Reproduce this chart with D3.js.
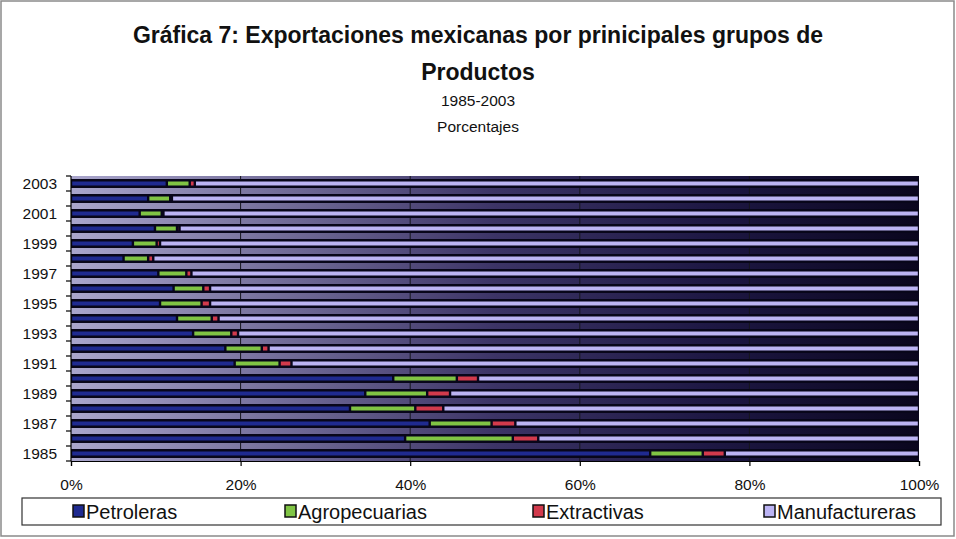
<!DOCTYPE html>
<html>
<head>
<meta charset="utf-8">
<script src="https://cdn.jsdelivr.net/npm/d3@7"></script>
<style>
  html, body { margin: 0; padding: 0; background: #ffffff; }
  svg { display: block; font-family: "Liberation Sans", Arial, sans-serif; }
</style>
</head>
<body>
<svg id="chart" width="956" height="539"></svg>
<script>
// Participación de cada grupo de productos en las exportaciones (%)
const years = [1985, 1986, 1987, 1988, 1989, 1990, 1991, 1992, 1993, 1994,
               1995, 1996, 1997, 1998, 1999, 2000, 2001, 2002, 2003];
const petroleras     = [68.3, 39.4, 42.3, 32.9, 34.7, 38.0, 19.3, 18.2, 14.4, 12.5,
                        10.5, 12.1, 10.3,  6.2,  7.3,  9.9,  8.1,  9.1, 11.3];
const agropecuarias  = [ 6.2, 12.7,  7.3,  7.7,  7.3,  7.5,  5.3,  4.3,  4.5,  4.1,
                         4.9,  3.5,  3.3,  2.9,  2.8,  2.6,  2.6,  2.6,  2.7];
const extractivas    = [ 2.6,  3.0,  2.8,  3.3,  2.7,  2.5,  1.4,  0.8,  0.8,  0.8,
                         1.0,  0.8,  0.6,  0.6,  0.4,  0.3,  0.2,  0.2,  0.6];
const manufactureras = [22.9, 44.9, 47.6, 56.1, 55.3, 52.0, 74.0, 76.7, 80.3, 82.6,
                        83.6, 83.6, 85.8, 90.3, 89.5, 87.2, 89.1, 88.1, 85.4];
const seriesNames = ["Petroleras", "Agropecuarias", "Extractivas", "Manufactureras"];
const xTicks = [0, 20, 40, 60, 80, 100];
const yLabelYears = [1985, 1987, 1989, 1991, 1993, 1995, 1997, 1999, 2001, 2003];

const colors = {
  Petroleras: "#1f2a90",
  Agropecuarias: "#80c444",
  Extractivas: "#d23a4c",
  Manufactureras: "#bcb4f4"
};

const rows = years.map((yr, i) => ({
  year: yr,
  Petroleras: petroleras[i],
  Agropecuarias: agropecuarias[i],
  Extractivas: extractivas[i],
  Manufactureras: manufactureras[i]
}));

const svg = d3.select("#chart");
const W = 956, H = 539;
const plot = { left: 71, right: 919, top: 176, bottom: 461 };

// marco exterior
svg.append("rect")
  .attr("x", 1).attr("y", 1).attr("width", W - 3).attr("height", H - 4)
  .attr("fill", "#ffffff").attr("stroke", "#8a8a8a").attr("stroke-width", 1.5);

// títulos
const titles = svg.append("g").attr("text-anchor", "middle").attr("fill", "#111");
titles.append("text").attr("x", 478).attr("y", 43)
  .attr("font-size", 23).attr("font-weight", "bold")
  .text("Gráfica 7: Exportaciones mexicanas por prinicipales grupos de");
titles.append("text").attr("x", 478).attr("y", 80)
  .attr("font-size", 23).attr("font-weight", "bold")
  .text("Productos");
titles.append("text").attr("x", 478).attr("y", 106)
  .attr("font-size", 15.5).text("1985-2003");
titles.append("text").attr("x", 478).attr("y", 132)
  .attr("font-size", 15.5).text("Porcentajes");

// escalas
const x = d3.scaleLinear().domain([0, 100]).range([plot.left, plot.right]);
const y = d3.scaleBand()
  .domain(years.slice().reverse())
  .range([plot.top, plot.bottom])
  .paddingInner(0.4)
  .paddingOuter(0.2);

// fondo del área de trazado con degradado horizontal
const defs = svg.append("defs");
const grad = defs.append("linearGradient").attr("id", "plotBg")
  .attr("x1", "0%").attr("x2", "100%").attr("y1", "0%").attr("y2", "0%");
grad.append("stop").attr("offset", "0%").attr("stop-color", "#aaa6cc");
grad.append("stop").attr("offset", "25%").attr("stop-color", "#726c98");
grad.append("stop").attr("offset", "50%").attr("stop-color", "#3c3466");
grad.append("stop").attr("offset", "75%").attr("stop-color", "#1e1844");
grad.append("stop").attr("offset", "100%").attr("stop-color", "#0a061e");

svg.append("rect")
  .attr("x", plot.left).attr("y", plot.top)
  .attr("width", plot.right - plot.left).attr("height", plot.bottom - plot.top)
  .attr("fill", "url(#plotBg)");

// líneas de división verticales
svg.append("g").selectAll("line")
  .data(xTicks.filter(d => d > 0 && d < 100))
  .join("line")
  .attr("x1", d => x(d)).attr("x2", d => x(d))
  .attr("y1", plot.top).attr("y2", plot.bottom)
  .attr("stroke", "#16161e").attr("stroke-width", 1);

// barras apiladas: contorno oscuro de cada fila y segmentos de color
const stack = d3.stack().keys(seriesNames);
const stacked = stack(rows);
const inner = 4;

svg.append("g").selectAll("rect")
  .data(rows)
  .join("rect")
  .attr("x", x(0))
  .attr("width", d => x(d3.sum(seriesNames, k => d[k])) - x(0))
  .attr("y", d => y(d.year))
  .attr("height", y.bandwidth())
  .attr("fill", "#08061a");

svg.append("g").selectAll("g")
  .data(stacked)
  .join("g")
  .attr("fill", d => colors[d.key])
  .selectAll("rect")
  .data(d => d)
  .join("rect")
  .attr("x", d => x(d[0]) + 1.2)
  .attr("width", d => Math.max(0, x(d[1]) - x(d[0]) - 2.4))
  .attr("y", d => y(d.data.year) + (y.bandwidth() - inner) / 2)
  .attr("height", inner);

// eje Y
const gy = svg.append("g");
gy.append("line")
  .attr("x1", plot.left).attr("x2", plot.left)
  .attr("y1", plot.top).attr("y2", plot.bottom)
  .attr("stroke", "#000").attr("stroke-width", 1.2);
const boundaries = years.map(yr => y(yr) - y.step() * y.paddingInner() / 2)
  .concat([plot.bottom]);
gy.selectAll("line.tick")
  .data(boundaries)
  .join("line")
  .attr("class", "tick")
  .attr("x1", plot.left - 5).attr("x2", plot.left)
  .attr("y1", d => d).attr("y2", d => d)
  .attr("stroke", "#000").attr("stroke-width", 1.2);
gy.selectAll("text")
  .data(yLabelYears)
  .join("text")
  .attr("x", plot.left - 14)
  .attr("y", d => y(d) + y.bandwidth() / 2)
  .attr("dy", "0.35em")
  .attr("text-anchor", "end")
  .attr("font-size", 15.5)
  .attr("fill", "#111")
  .text(d => d);

// eje X
const gx = svg.append("g")
  .attr("transform", `translate(0,${plot.bottom})`)
  .call(d3.axisBottom(x).tickValues(xTicks).tickFormat(d => d + "%")
    .tickSize(5).tickPadding(13));
gx.select(".domain").attr("stroke", "#000").attr("stroke-width", 1.2);
gx.selectAll(".tick line").attr("stroke", "#000").attr("stroke-width", 1.2);
gx.selectAll(".tick text")
  .attr("font-size", 15.5).attr("fill", "#111")
  .attr("font-family", "Liberation Sans, Arial, sans-serif");

// leyenda
const legend = svg.append("g");
legend.append("rect")
  .attr("x", 22).attr("y", 498).attr("width", 919).attr("height", 27)
  .attr("fill", "#fff").attr("stroke", "#333").attr("stroke-width", 1.2);
const legendX = [73, 285, 533, 764];
const items = legend.selectAll("g.item")
  .data(seriesNames)
  .join("g")
  .attr("class", "item")
  .attr("transform", (d, i) => `translate(${legendX[i]},0)`);
items.append("rect")
  .attr("x", 0).attr("y", 505).attr("width", 11).attr("height", 12)
  .attr("fill", d => colors[d]).attr("stroke", "#111").attr("stroke-width", 1.5);
items.append("text")
  .attr("x", 13).attr("y", 519)
  .attr("font-size", 20).attr("fill", "#111")
  .text(d => d);
</script>
</body>
</html>
